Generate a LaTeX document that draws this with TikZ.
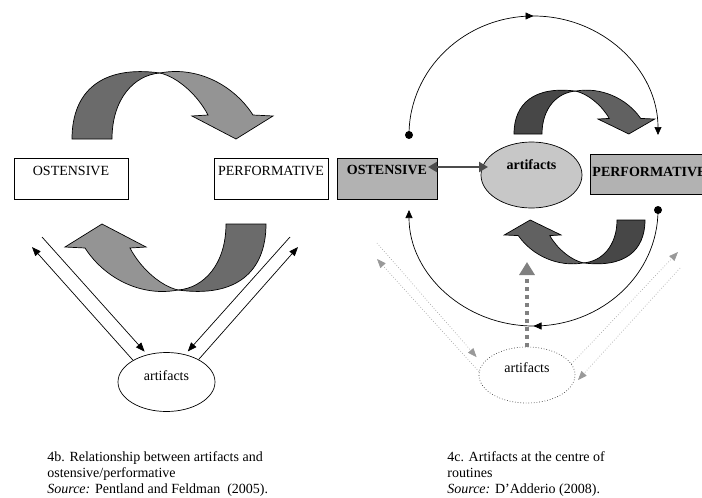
\documentclass[tikz,border=0pt]{standalone}
\usepackage{fontspec}
\setmainfont{Liberation Serif}
\usetikzlibrary{shapes.geometric,arrows.meta,decorations.markings}

\newcommand{\ribbon}[2]{%
  \filldraw[fill=#1] (0,0) .. controls (0,-48) and (30,-74) .. (88,-66)
    .. controls (62,-64) and (40,-40) .. (40,0) -- cycle;
  \filldraw[fill=#2] (88,-66) .. controls (124,-73) and (161,-55) .. (181,-24)
    -- (201,-23) -- (164,0) -- (120,-23) -- (136,-24)
    .. controls (125,-45) and (105,-62) .. (88,-66) -- cycle;
}

\begin{document}
\begin{tikzpicture}[x=1pt, y=-1pt, line width=0.7pt,
    every node/.style={font=\fontsize{14}{16}\selectfont},
    boldtxt/.style={font=\fontsize{14}{16}\selectfont\bfseries},
    box/.style={draw, rectangle, inner sep=0pt},
    blob/.style={draw, ellipse, inner sep=0pt, text height=10pt},
    arr/.style={-{Triangle[length=9pt,width=7pt]}},
    faint/.style={draw=black!35, dotted, -{Triangle[length=9pt,width=7pt,color=black!40]}},
    midarr/.style={postaction={decorate}, decoration={markings,
        mark=at position 0.5 with {\arrow{Triangle[length=8pt,width=7pt]}}}},
    captxt/.style={anchor=base west, inner sep=0pt}]
  \useasboundingbox (0,0) rectangle (702,498);
  \clip (0,0) rectangle (702,498);

  % 4b
  \begin{scope}[shift={(72,139)}]
    \ribbon{black!58}{black!42}
  \end{scope}
  \begin{scope}[shift={(266,224)}, rotate=180]
    \ribbon{black!58}{black!42}
  \end{scope}

  \node[box, minimum width=114pt, minimum height=41pt, text height=17.5pt, text depth=23.5pt] (ostA) at (71,178.5) {OSTENSIVE};
  \node[box, minimum width=114pt, minimum height=41pt, text height=17.5pt, text depth=23.5pt] (perfA) at (271,178.5) {PERFORMATIVE};
  \node[blob, minimum width=97pt, minimum height=59pt, text depth=14pt] (artA) at (166.5,382) {artifacts};

  \coordinate (aA) at (42,237);
  \coordinate (aB) at (32,247);
  \coordinate (aC) at (290,237);
  \coordinate (aD) at (298,247);
  \draw[arr, shorten >=4pt] (aA) -- (artA.125);
  \draw[arr] (artA.147) -- (aB);
  \draw[arr, shorten >=4pt] (aC) -- (artA.56);
  \draw[arr] (artA.35) -- (aD);

  % 4c
  \begin{scope}[shift={(514,134)}, xscale=0.7, yscale=0.65]
    \ribbon{black!72}{black!62}
  \end{scope}
  \begin{scope}[shift={(645,220)}, rotate=180, xscale=0.7, yscale=0.65]
    \ribbon{black!72}{black!62}
  \end{scope}

  \node[box, boldtxt, fill=black!30, minimum width=100pt, minimum height=41pt, text height=16.5pt, text depth=24.5pt] (ostB) at (387,178.5) {OSTENSIVE};
  \node[box, boldtxt, fill=black!30, minimum width=119pt, minimum height=40pt, text height=22.5pt, text depth=17.5pt] (perfB) at (649.5,174) {PERFORMATIVE};
  \node[blob, boldtxt, fill=black!22, minimum width=101pt, minimum height=66pt, text depth=22pt] (artB) at (531.5,175) {artifacts};
  \node[blob, dotted, draw=black!75, minimum width=96pt, minimum height=56pt, text depth=15pt] (artC) at (527,375) {artifacts};

  \coordinate (dotT) at (409,135);
  \coordinate (dotB) at (658,210);
  \draw[midarr, -{Triangle[length=8pt,width=7pt]}] (dotT) arc[start angle=180, end angle=360, x radius=124.5, y radius=119];
  \draw[midarr, -{Triangle[length=8pt,width=7pt]}] (dotB) arc[start angle=0, end angle=180, x radius=124.5, y radius=116];
  \fill (dotT) circle (4);
  \fill (dotB) circle (4);

  \coordinate (dL) at (428,167);
  \coordinate (dR) at (488,167);
  \draw[line width=2.5pt, draw=black!70, {Triangle[length=9pt,width=10pt]}-{Triangle[length=9pt,width=10pt]}] (dL) -- (dR);

  \coordinate (dashT) at (527,262);
  \draw[line width=4pt, draw=black!50, dash pattern=on 4pt off 4pt, -{Triangle[length=13pt,width=15pt]}] (artC.north) -- (dashT);

  \coordinate (fE) at (377,243);
  \coordinate (fF) at (377,259);
  \coordinate (fG) at (678,252);
  \coordinate (fH) at (680,268);
  \coordinate (fHt) at (578,380);
  \draw[faint, shorten >=9pt] (fE) -- (artC.166);
  \draw[faint] (artC.176) -- (fF);
  \draw[faint] (artC.14) -- (fG);
  \draw[faint] (fH) -- (fHt);

  % captions
  \node[captxt] (capB1) at (47,461) {4b. Relationship between artifacts and};
  \node[captxt] (capB2) at (47,477) {ostensive/performative};
  \node[captxt] (capB3) at (47,493) {\textit{Source:} Pentland and Feldman\ \ (2005).};
  \node[captxt] (capC1) at (447,461) {4c. Artifacts at the centre of};
  \node[captxt] (capC2) at (447,477) {routines};
  \node[captxt] (capC3) at (447,493) {\textit{Source:} D’Adderio (2008).};
\end{tikzpicture}
\end{document}
